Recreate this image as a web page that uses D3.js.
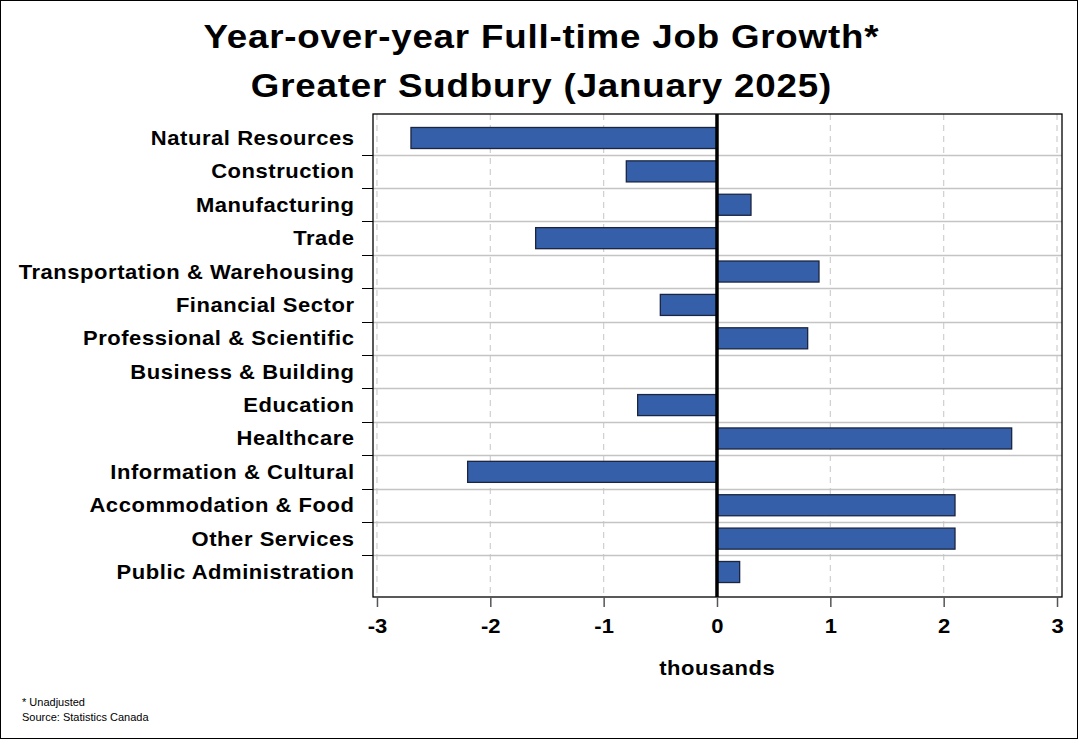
<!DOCTYPE html>
<html><head><meta charset="utf-8">
<script src="https://cdn.jsdelivr.net/npm/d3@7"></script>
<style>body{margin:0;background:#fff;} svg{display:block;font-family:"Liberation Sans",Arial,sans-serif;}</style>
</head><body><svg id="c" width="1080" height="740"></svg>
<script>
const categories = ["Natural Resources","Construction","Manufacturing","Trade","Transportation & Warehousing","Financial Sector","Professional & Scientific","Business & Building","Education","Healthcare","Information & Cultural","Accommodation & Food","Other Services","Public Administration"];
const values = [-2.7,-0.8,0.3,-1.6,0.9,-0.5,0.8,0,-0.7,2.6,-2.2,2.1,2.1,0.2];
const xTicks = [-3,-2,-1,0,1,2,3];
const titleLines = ["Year-over-year Full-time Job Growth*","Greater Sudbury (January 2025)"];
const footnotes = ["* Unadjusted","Source: Statistics Canada"];
const xLabel = "thousands";

const svg = d3.select("#c");
svg.append("rect").attr("x",0.5).attr("y",0.5).attr("width",1077).attr("height",738).attr("fill","#fff").attr("stroke","#000");

const L=373,R=1062,T=114,B=597;
const x = d3.scaleLinear().domain([-3.035,3.044]).range([L,R]);
const y = d3.scaleBand().domain(categories).range([T+7.3,B-8.3]).paddingInner(0.37).paddingOuter(0.185);
const step = y.step();
const bandTop = c => y(c) - y.paddingInner()*step/2;

const SX = 1.1, LS = 0.5, TSX = 1.08, TLS = 0.75;

svg.append("g").selectAll("line").data(xTicks).join("line")
 .attr("x1",d=>x(d)).attr("x2",d=>x(d)).attr("y1",T).attr("y2",B)
 .attr("stroke","#cfcfcf").attr("stroke-width",1.2).attr("stroke-dasharray","6,5");

svg.append("g").selectAll("line").data(categories.slice(1)).join("line")
 .attr("x1",L).attr("x2",R).attr("y1",d=>Math.round(bandTop(d))+0.5).attr("y2",d=>Math.round(bandTop(d))+0.5)
 .attr("stroke","#c4c4c4").attr("stroke-width",1.3);
svg.append("g").selectAll("line").data(categories.slice(1)).join("line")
 .attr("x1",L-11).attr("x2",L).attr("y1",d=>Math.round(bandTop(d))+0.5).attr("y2",d=>Math.round(bandTop(d))+0.5)
 .attr("stroke","#000").attr("stroke-width",1);

svg.append("g").selectAll("rect").data(categories).join("rect")
 .attr("x",(d,i)=>x(Math.min(0,values[i])))
 .attr("width",(d,i)=>Math.abs(x(values[i])-x(0)))
 .attr("y",d=>y(d)).attr("height",y.bandwidth())
 .attr("fill","#3560a9").attr("stroke","#1b2540").attr("stroke-width",1.3);

svg.append("line").attr("x1",x(0)).attr("x2",x(0)).attr("y1",T).attr("y2",B).attr("stroke","#000").attr("stroke-width",3.5);

svg.append("rect").attr("x",L).attr("y",T).attr("width",R-L).attr("height",B-T).attr("fill","none").attr("stroke","#000").attr("stroke-width",1.3);

const xa = svg.append("g").attr("transform",`translate(0,${B})`)
 .call(d3.axisBottom(x).tickValues(xTicks).tickSize(10).tickPadding(12).tickFormat(d=>String(d)));
xa.select(".domain").remove();
xa.selectAll(".tick line").attr("stroke","#555").attr("stroke-width",1.5);
xa.selectAll("text").attr("font-size",20).attr("font-weight","bold").attr("fill","#000")
 .attr("font-family","Liberation Sans, Arial, sans-serif").attr("transform",`scale(${SX},1)`);

svg.append("g").selectAll("g").data(categories).join("g")
 .attr("transform",d=>`translate(354,${y(d)+y.bandwidth()/2}) scale(${SX},1)`)
 .append("text").attr("x",LS).attr("dy","0.35em")
 .attr("text-anchor","end").attr("font-size",20).attr("font-weight","bold").attr("letter-spacing",LS).text(d=>d);

svg.append("g").selectAll("g").data(titleLines).join("g")
 .attr("transform",(d,i)=>`translate(541,${48+i*49}) scale(${TSX},1)`)
 .append("text").attr("x",TLS/2).attr("text-anchor","middle")
 .attr("font-size",34).attr("font-weight","bold").attr("letter-spacing",TLS).text(d=>d);

svg.append("g").attr("transform",`translate(${x(0)},675) scale(${SX},1)`)
 .append("text").attr("x",LS/2).attr("text-anchor","middle").attr("font-size",20).attr("font-weight","bold").attr("letter-spacing",LS).text(xLabel);

svg.append("g").selectAll("text").data(footnotes).join("text")
 .attr("x",22).attr("y",(d,i)=>706+i*15).attr("font-size",11).text(d=>d);
</script></body></html>
